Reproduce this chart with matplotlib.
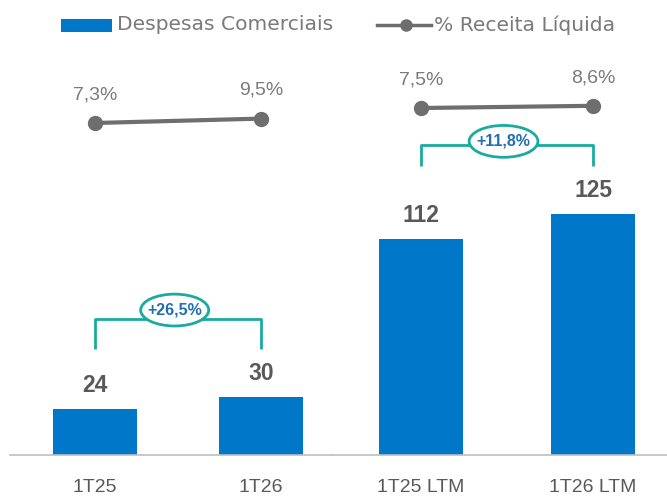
import matplotlib.pyplot as plt
from matplotlib.patches import Ellipse, Rectangle
from matplotlib.lines import Line2D

# Despesas comerciais (R$ mi) e % da receita líquida
periods_q = ["1T25", "1T26"]
periods_ltm = ["1T25 LTM", "1T26 LTM"]
despesas_q = [24, 30]
despesas_ltm = [112, 125]
pct_q = [7.3, 9.5]
pct_ltm = [7.5, 8.6]
growth_q = "+26,5%"
growth_ltm = "+11,8%"

BLUE = "#0077c8"
GRAY_LINE = "#6e6e6e"
GRAY_LBL = "#7a7a7a"
GRAY_TXT = "#595959"
TEAL = "#1aaba0"
GROWTH_TXT = "#1f6fb5"

plt.rcParams['font.family'] = ['Liberation Sans', 'DejaVu Sans']

W, H = 667, 496
fig = plt.figure(figsize=(W / 100, H / 100), dpi=100)

BASE_PX = 455   # baseline (from top)
TOP_PX = 60
BAR_SCALE = 1.93  # px per unit
PCT_SCALE = 2.0   # px per percentage point


def make_panel(x0, x1, per_unit, first_center):
    ax = fig.add_axes([x0 / W, (H - BASE_PX) / H, (x1 - x0) / W,
                       (BASE_PX - TOP_PX) / H])
    lo = -(first_center - x0) / per_unit
    ax.set_xlim(lo, lo + (x1 - x0) / per_unit)
    ax.set_ylim(0, (BASE_PX - TOP_PX) / BAR_SCALE)
    for s in ["top", "right", "left"]:
        ax.spines[s].set_visible(False)
    ax.spines["bottom"].set_color("#bfbfbf")
    ax.spines["bottom"].set_linewidth(1.2)
    ax.set_yticks([])
    ax.tick_params(axis="x", length=0, pad=27, labelsize=14, colors=GRAY_TXT)
    return ax


def draw_panel(ax, labels, values, pct, growth, bar_w, ell_w,
               bracket_lo, bracket_hi, ell_dy, pct_top_px):
    xs = list(range(len(labels)))
    ax.bar(xs, values, width=bar_w, color=BLUE, zorder=2)
    ax.set_xticks(xs, labels)
    for lbl in ax.get_xticklabels():
        lbl.set_va("baseline")
    for x, v in zip(xs, values):
        ax.annotate(f"{v}", (x, v), xytext=(0, 12), textcoords="offset points",
                    ha="center", va="baseline", fontsize=16.5,
                    fontweight="bold", color=GRAY_TXT)

    # bracket with growth label
    ax.plot([xs[0], xs[0], xs[1], xs[1]],
            [bracket_lo, bracket_hi, bracket_hi, bracket_lo],
            color=TEAL, lw=2, zorder=3, solid_capstyle="butt")
    xm = (xs[0] + xs[1]) / 2 - 0.02
    ymid = bracket_hi + ell_dy
    ax.add_patch(Ellipse((xm, ymid), ell_w, 16.5, facecolor="white",
                         edgecolor=TEAL, lw=2, zorder=4))
    ax.text(xm, ymid, growth, ha="center", va="center", fontsize=11.5,
            fontweight="bold", color=GROWTH_TXT, zorder=5)

    # % receita líquida on its own scale
    ax2 = ax.twinx()
    ax2.set_axis_off()
    height_px = BASE_PX - TOP_PX
    lo = pct[0] - (BASE_PX - pct_top_px) / PCT_SCALE
    ax2.set_ylim(lo, lo + height_px / PCT_SCALE)
    ax2.plot(xs, pct, color=GRAY_LINE, lw=3, marker="o", markersize=10,
             zorder=3)
    for x, p in zip(xs, pct):
        ax2.annotate(f"{p:.1f}%".replace(".", ","), (x, p), xytext=(0, 17),
                     textcoords="offset points", ha="center", va="baseline",
                     fontsize=14, color=GRAY_LBL)


ax_l = make_panel(10, 332, 166, 95)
draw_panel(ax_l, periods_q, despesas_q, pct_q, growth_q, 0.506, 0.41,
           55, 70.5, 4.6, 123)

ax_r = make_panel(332, 667, 172, 421)
draw_panel(ax_r, periods_ltm, despesas_ltm, pct_ltm, growth_ltm, 0.49, 0.40,
           150, 160.5, 2.0, 108)


# legend drawn along the top
def fx(px):
    return px / W


def fy(py):
    return 1 - py / H


fig.patches.append(Rectangle((fx(61), fy(32)), fx(51), 13 / H,
                             transform=fig.transFigure, facecolor=BLUE,
                             edgecolor="none"))
fig.text(fx(117), fy(25), "Despesas Comerciais", ha="left", va="center",
         fontsize=14.6, color=GRAY_LBL, family="DejaVu Sans")
fig.lines.append(Line2D([fx(377), fx(431)], [fy(24.5), fy(24.5)],
                        transform=fig.transFigure, color=GRAY_LINE, lw=2.5))
fig.lines.append(Line2D([fx(406)], [fy(24.5)], transform=fig.transFigure,
                        color=GRAY_LINE, marker="o", markersize=8))
fig.text(fx(434), fy(25), "% Receita Líquida", ha="left", va="center",
         fontsize=14.6, color=GRAY_LBL, family="DejaVu Sans")

fig.savefig("out.png", dpi=100)
